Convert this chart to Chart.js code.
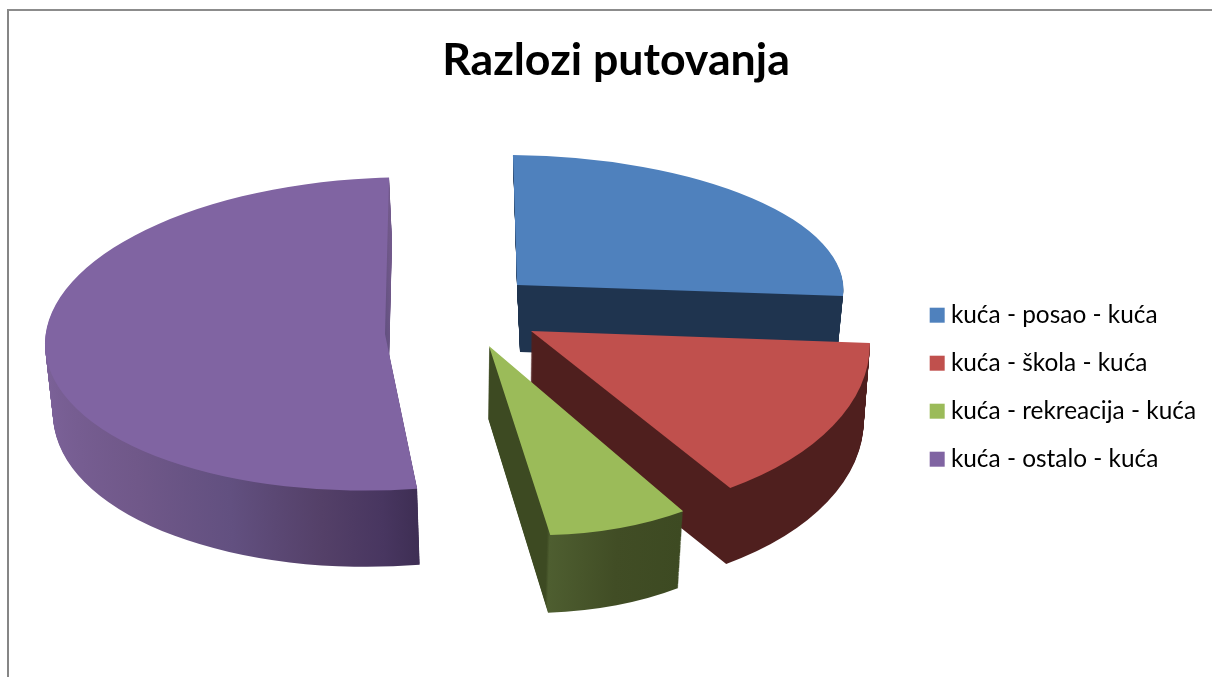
<!DOCTYPE html>
<html><head><meta charset="utf-8">
<script src="https://cdn.jsdelivr.net/npm/chart.js@4"></script>
<style>
html,body{margin:0;padding:0;background:#fff;overflow:hidden}
#frame{position:absolute;left:7px;top:9px;width:1205px;height:668px;border-left:2px solid #868686;border-top:2px solid #8c8c8c;box-sizing:border-box}
#wrap{position:absolute;left:0;top:0;width:1212px;height:677px}
</style></head><body>
<div id="frame"></div>
<div id="wrap"><canvas id="c" width="1212" height="677"></canvas></div>
<script>
const chartTitle = 'Razlozi putovanja';
const categories = ['kuća - posao - kuća','kuća - škola - kuća','kuća - rekreacija - kuća','kuća - ostalo - kuća'];
const shares = [26, 15, 7.3, 51.7];
const topColors = ['#4f81bd','#c0504d','#9bbb59','#8064a2'];

// 3D view of each exploded slice: where its apex lands, affine tilt of the disc, extrusion of the wall
const views = [
  {ax:517,ay:285,sx:.96, kx:.012, ky:.0085,sy:.382,dx:3, dy:67,fx:.97, fy:1.0},
  {ax:531,ay:331,sx:.995,kx:.0624,ky:.0011,sy:.546,dx:-1,dy:76,fx:.985,fy:1.0},
  {ax:489,ay:346,sx:.939,kx:.0805,ky:.0305,sy:.556,dx:-1,dy:72,fx:.98, fy:1.03},
  {ax:385,ay:334,sx:1.0,kx:-.012,ky:-.0235,sy:.46,dx:3, dy:70,fx:.985,fy:1.04}
];
// wall shading: gradient vector in disc coordinates, and its stops
const wallVectors = [[-340,0,340,0],[-340,0,340,0],[0,0,182,0],[-272,-136,160.8,80.4]];
const wallStops = [
  [[0,'#1f344f'],[1,'#1f344f']],
  [[0,'#4f1f1e'],[1,'#4f1f1e']],
  [[0,'#3d4a22'],[.19,'#3d4a22'],[.198,'#4e5e30'],[.6,'#414d25'],[1,'#3d4a22']],
  [[0,'#7c6299'],[.385,'#705889'],[.625,'#625080'],[.824,'#544068'],[.943,'#483660'],[1,'#3f2f55']]
];

const slice3d = {
  id:'slice3d',
  beforeDatasetsDraw(chart){
    const ctx = chart.ctx, meta = chart.getDatasetMeta(0);
    meta.data.forEach((arc,i)=>{
      const v = views[i];
      const place = t=>{
        const fx = 1+(v.fx-1)*t, fy = 1+(v.fy-1)*t;
        ctx.setTransform(v.sx*fx, v.ky*fy, v.kx*fx, v.sy*fy, v.ax+v.dx*t, v.ay+v.dy*t);
        ctx.translate(-arc.x,-arc.y);
      };
      const base = arc.options;
      const w = wallVectors[i];
      const g = ctx.createLinearGradient(arc.x+w[0],arc.y+w[1],arc.x+w[2],arc.y+w[3]);
      wallStops[i].forEach(s=>g.addColorStop(s[0],s[1]));
      const wall = Object.assign({}, base, {backgroundColor:g,borderWidth:0,borderColor:'transparent',offset:0,spacing:0,borderRadius:0,circular:true,borderAlign:'center'});
      ctx.save();
      arc.options = wall;
      const steps = Math.ceil(v.dy);
      for(let s=steps;s>0;s--){ place(s/steps); arc.draw(ctx); }
      arc.options = base;
      place(0); arc.draw(ctx);
      ctx.restore();
    });
    return false;
  }
};

new Chart(document.getElementById('c'),{
  type:'pie',
  data:{labels:categories,datasets:[{data:shares,backgroundColor:topColors,borderWidth:0,radius:340}]},
  plugins:[slice3d],
  options:{
    responsive:false,animation:false,
    layout:{padding:{left:26,right:6,top:30,bottom:182}},
    plugins:{
      tooltip:{enabled:false},
      title:{display:true,text:chartTitle,color:'#000',font:{family:'Lato',size:44.7,weight:'bold'},padding:{top:4,bottom:60}},
      legend:{position:'right',align:'end',labels:{usePointStyle:true,pointStyle:'rect',boxWidth:3,boxHeight:15,padding:23.6,color:'#000',font:{family:'Lato',size:24.4}}}
    }
  }
});
</script>
</body></html>
